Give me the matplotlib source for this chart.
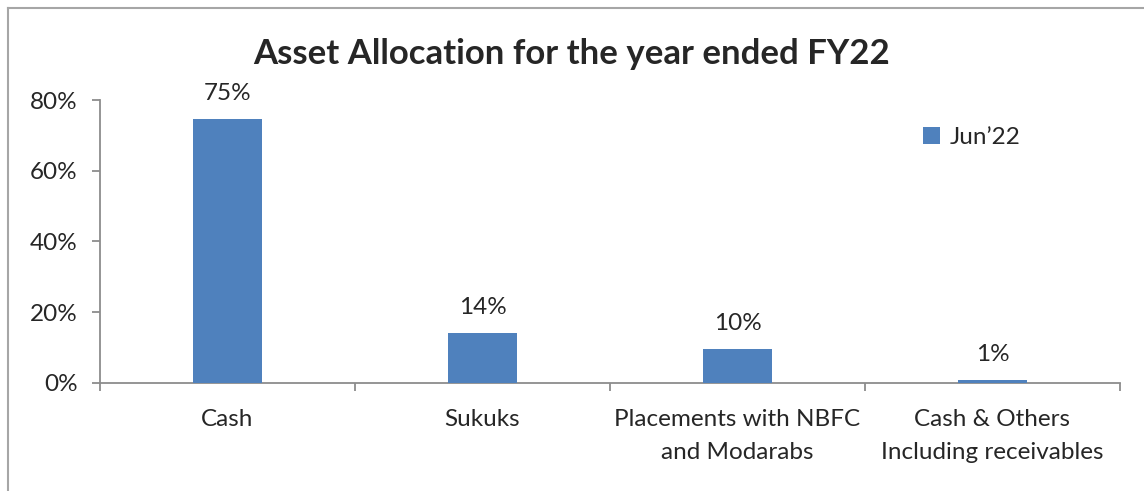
import numpy as np
import matplotlib
matplotlib.use("Agg")
from matplotlib import pyplot as plt
from matplotlib.lines import Line2D

categories = ["Cash", "Sukuks", "Placements with NBFC\nand Modarabs",
              "Cash & Others\nIncluding receivables"]
values = [74.6, 14.1, 9.6, 0.9]
value_labels = ["75%", "14%", "10%", "1%"]
series_name = "Jun\u201922"
yticks = [0, 20, 40, 60, 80]

plt.rcParams['font.family'] = ['Lato', 'DejaVu Sans']
text_color = '#262626'
axis_color = '#8c8c8c'
bar_color = '#4f81bd'
fs = 17.5

fig = plt.figure(figsize=(11.44, 4.91), dpi=100)
ax = fig.add_axes([0.0874, 0.22, 0.979 - 0.0874, 0.7963 - 0.22])

x = np.arange(len(categories))
bars = ax.bar(x, values, width=0.27, color=bar_color, label=series_name, zorder=3)

for xi, v, lab in zip(x, values, value_labels):
    ax.annotate(lab, (xi, v), xytext=(0, 11), textcoords='offset points',
                ha='center', va='bottom', fontsize=fs, color=text_color)

ax.set_xlim(-0.5, len(categories) - 0.5)
ax.set_ylim(0, 80)
ax.set_yticks(yticks)
ax.set_yticklabels(["{}%".format(t) for t in yticks])

ax.set_xticks(x)
ax.set_xticklabels(categories, fontsize=fs, color=text_color, linespacing=1.7)
ax.set_xticks(np.arange(len(categories) + 1) - 0.5, minor=True)
ax.tick_params(axis='x', which='major', length=0, pad=19)
ax.tick_params(axis='x', which='minor', length=6, width=1.3, color=axis_color)
ax.tick_params(axis='y', length=6, width=1.3, color=axis_color, labelsize=fs,
               labelcolor=text_color, pad=10)

for s in ['top', 'right']:
    ax.spines[s].set_visible(False)
for s in ['left', 'bottom']:
    ax.spines[s].set_color(axis_color)
    ax.spines[s].set_linewidth(1.3)

fig.text(0.5, 0.89, "Asset Allocation for the year ended FY22", ha='center',
         va='center', fontsize=25, fontweight='bold', color=text_color)

ax.legend(loc='center left', bbox_to_anchor=(0.788, 0.72),
          bbox_transform=fig.transFigure, frameon=False, fontsize=fs,
          handlelength=0.7, handleheight=0.7, handletextpad=0.4,
          labelcolor=text_color)

# chart frame (top and left edges visible)
fig.add_artist(Line2D([8 / 1144, 1.0], [1 - 8 / 491, 1 - 8 / 491],
                      transform=fig.transFigure, color='#a6a6a6', lw=1.5))
fig.add_artist(Line2D([8 / 1144, 8 / 1144], [0.0, 1 - 8 / 491],
                      transform=fig.transFigure, color='#a6a6a6', lw=1.5))

fig.savefig("out.png", dpi=100)
